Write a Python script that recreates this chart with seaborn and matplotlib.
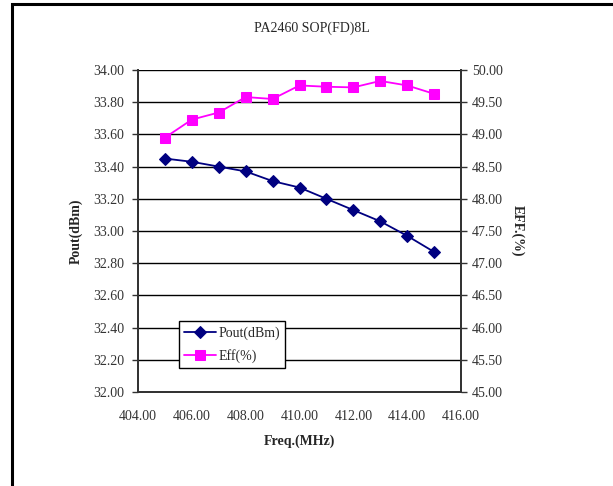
import matplotlib
matplotlib.use("Agg")
import matplotlib.pyplot as plt
import seaborn as sns
import pandas as pd
from matplotlib.patches import Rectangle
from matplotlib.ticker import FormatStrFormatter, MultipleLocator

freq = [405, 406, 407, 408, 409, 410, 411, 412, 413, 414, 415]
pout = [33.45, 33.43, 33.40, 33.37, 33.31, 33.27, 33.20, 33.13, 33.06, 32.97, 32.87]
eff = [48.95, 49.23, 49.34, 49.58, 49.55, 49.76, 49.74, 49.73, 49.83, 49.76, 49.63]

title = "PA2460 SOP(FD)8L"
xlabel = "Freq.(MHz)"
ylabel_left = "Pout(dBm)"
ylabel_right = "EFF.(%)"
name_pout = "Pout(dBm)"
name_eff = "Eff(%)"

sns.set_theme(style="white")
plt.rcParams['font.family'] = ['Liberation Serif', 'DejaVu Serif']

df = pd.DataFrame({"freq": freq, "pout": pout, "eff": eff})

fig = plt.figure(figsize=(6.13, 4.86), dpi=100)
fig.patch.set_facecolor("white")
fig.patches.append(Rectangle((12 / 613, -0.05), 1.2, 1.05 - 4 / 486,
                             transform=fig.transFigure, fill=False,
                             edgecolor="black", linewidth=2.2, zorder=0))

ax = fig.add_axes([138 / 613, (486 - 392) / 486, 323 / 613, 322 / 486])
ax2 = ax.twinx()

sns.lineplot(data=df, x="freq", y="pout", ax=ax, color="#000080", marker="D",
             markersize=6, markeredgecolor="#000080", linewidth=1.3,
             label=name_pout, legend=False)
sns.lineplot(data=df, x="freq", y="eff", ax=ax2, color="#FF00FF", marker="s",
             markersize=7.5, markeredgecolor="#FF00FF", linewidth=1.3,
             label=name_eff, legend=False)

ax.set_xlim(404, 416)
ax.set_ylim(32, 34)
ax2.set_ylim(45, 50)
ax.xaxis.set_major_locator(MultipleLocator(2))
ax.yaxis.set_major_locator(MultipleLocator(0.2))
ax2.yaxis.set_major_locator(MultipleLocator(0.5))
ax.xaxis.set_major_formatter(FormatStrFormatter("%.2f"))
ax.yaxis.set_major_formatter(FormatStrFormatter("%.2f"))
ax2.yaxis.set_major_formatter(FormatStrFormatter("%.2f"))

ax.grid(False)
ax2.grid(False)
ax.yaxis.grid(True, color="black", linewidth=1.0)
ax.set_axisbelow(True)

for a in (ax, ax2):
    for s in a.spines.values():
        s.set_color("#333333")
        s.set_linewidth(1.3)
ax.spines["top"].set_visible(False)
ax2.spines["top"].set_visible(False)

tick_kw = dict(labelsize=10, labelcolor="#333333", color="#333333")
ax.tick_params(axis="x", direction="in", length=4, width=1, pad=13, **tick_kw)
ax.tick_params(axis="y", direction="out", length=4, width=1, left=True, pad=6, **tick_kw)
ax2.tick_params(axis="y", direction="out", length=4, width=1, right=True, pad=4, **tick_kw)

ax.set_xlabel(xlabel, fontsize=10, fontweight="bold", labelpad=8)
ax.set_ylabel(ylabel_left, fontsize=10, fontweight="bold", labelpad=7)
ax2.set_ylabel(ylabel_right, fontsize=10, fontweight="bold", rotation=270, labelpad=15)

fig.text(312 / 613, 1 - 28 / 486, title, ha="center", va="center", fontsize=10)

h1, l1 = ax.get_legend_handles_labels()
h2, l2 = ax2.get_legend_handles_labels()
leg = ax2.legend(h1 + h2, l1 + l2, loc="lower left",
                 bbox_to_anchor=(0.127, 0.074), borderaxespad=0,
                 fontsize=10, frameon=True,
                 fancybox=False, edgecolor="black", framealpha=1,
                 borderpad=0.35, handlelength=2.3, handletextpad=0.2,
                 labelspacing=0.7)
leg.get_frame().set_linewidth(1.0)

fig.savefig("out.png", dpi=100, facecolor="white")
